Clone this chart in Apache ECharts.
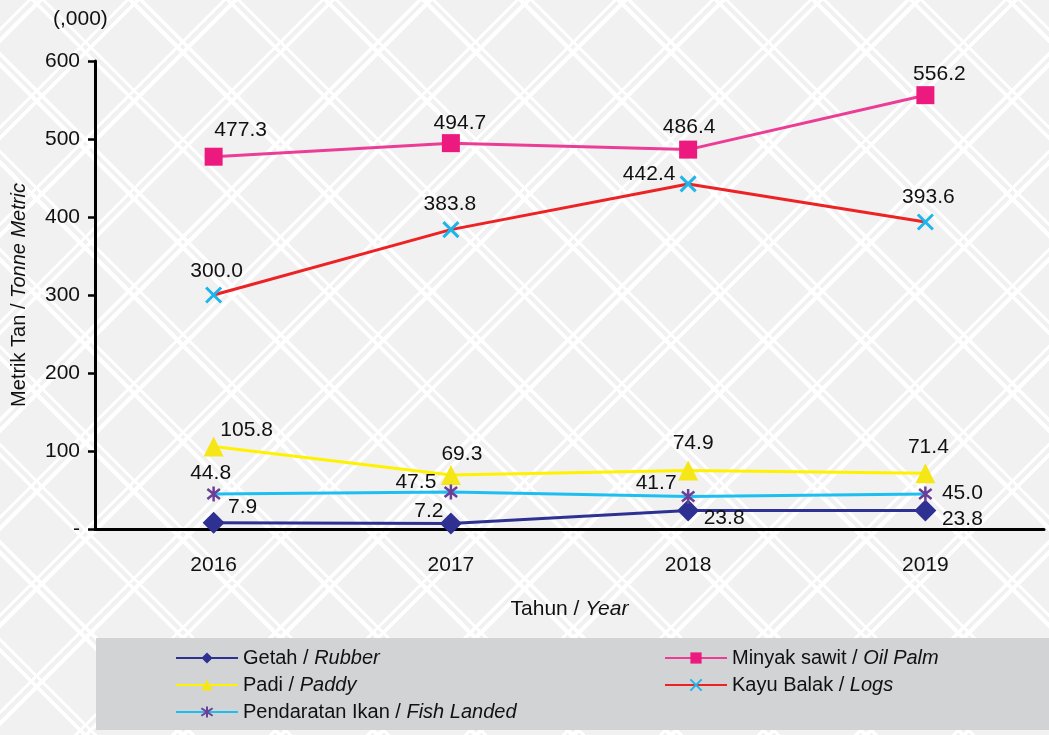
<!DOCTYPE html>
<html>
<head>
<meta charset="utf-8">
<script src="https://cdn.jsdelivr.net/npm/echarts@6/dist/echarts.min.js"></script>
<style>
  html, body { margin: 0; padding: 0; }
  #main {
    width: 1049px; height: 735px;
    background-color: #f1f1f1;
    background-image:
      repeating-linear-gradient(45deg, transparent 0 58px, #ffffff 58px 62px, transparent 62px 66px, #ffffff 66px 69px),
      repeating-linear-gradient(-45deg, transparent 0 58px, #ffffff 58px 62px, transparent 62px 66px, #ffffff 66px 69px);
  }
</style>
</head>
<body>
<div id="main"></div>
<script>
// 年份
var years = ['2016', '2017', '2018', '2019'];

// 各项产量 (,000 tan metrik)
var getah = [7.9, 7.2, 23.8, 23.8];
var padi = [105.8, 69.3, 74.9, 71.4];
var ikan = [44.8, 47.5, 41.7, 45.0];
var sawit = [477.3, 494.7, 486.4, 556.2];
var kayu = [300.0, 383.8, 442.4, 393.6];

var yTicks = ['-', '100', '200', '300', '400', '500', '600'];

var FONT = 'Liberation Sans';

// 标签相对数据点的偏移（样式）
function labelled(values, offs) {
  return values.map(function (v, i) {
    return { value: v, label: { position: 'inside', offset: offs[i] } };
  });
}

var xPath = 'path://M0,0L10,10M10,0L0,10';
var starPath = 'path://M0,1L10,9M10,1L0,9M5,-1L5,11';

var myChart = echarts.init(document.getElementById('main'));

var labelBase = {
  show: true, fontFamily: FONT, fontSize: 21, color: '#111',
  formatter: function (p) { return p.value.toFixed(1); }
};

myChart.setOption({
  title: {
    text: '(,000)', left: 48, top: 4,
    textStyle: { fontFamily: FONT, fontSize: 21, fontWeight: 'normal', color: '#111' }
  },
  grid: { left: 95, right: 5, top: 61, bottom: 206, outerBoundsMode: 'none' },
  graphic: [{
    type: 'rect', left: 96, top: 638, z: -1,
    shape: { width: 953, height: 92 },
    style: { fill: '#d1d3d4' }
  }],
  legend: [{
    orient: 'vertical', left: 170, top: 643, itemGap: 7, itemWidth: 62, itemHeight: 14,
    data: ['Getah / Rubber', 'Padi / Paddy', 'Pendaratan Ikan / Fish Landed'],
    formatter: fmt, textStyle: legendText()
  }, {
    orient: 'vertical', left: 659, top: 643, itemGap: 7, itemWidth: 62, itemHeight: 14,
    data: ['Minyak sawit / Oil Palm', 'Kayu Balak / Logs'],
    formatter: fmt, textStyle: legendText()
  }],
  xAxis: {
    type: 'category', data: years,
    name: '{n|Tahun / }{i|Year}', nameLocation: 'middle', nameGap: 70,
    nameTextStyle: { rich: {
      n: { fontFamily: FONT, fontSize: 21, color: '#111' },
      i: { fontFamily: FONT, fontSize: 21, fontStyle: 'italic', color: '#111' }
    } },
    axisLine: { lineStyle: { color: '#000', width: 3 } },
    axisTick: { length: 7, lineStyle: { color: '#000', width: 2.5 } },
    axisLabel: { margin: 26, fontFamily: FONT, fontSize: 21, color: '#111' }
  },
  yAxis: {
    type: 'value', min: 0, max: 600, interval: 100,
    name: '{n|Metrik Tan / }{i|Tonne Metric}', nameLocation: 'middle', nameGap: 66, nameRotate: 90,
    nameTextStyle: { rich: {
      n: { fontFamily: FONT, fontSize: 20, color: '#111' },
      i: { fontFamily: FONT, fontSize: 20, fontStyle: 'italic', color: '#111' }
    } },
    splitLine: { show: false },
    axisLine: { show: true, lineStyle: { color: '#000', width: 3 } },
    axisTick: { show: true, length: 7, lineStyle: { color: '#000', width: 2.5 } },
    axisLabel: {
      margin: 15, fontFamily: FONT, fontSize: 21, color: '#111',
      formatter: function (v) { return yTicks[v / 100]; }
    }
  },
  series: [{
    name: 'Getah / Rubber', type: 'line',
    data: labelled(getah, [[29, -16], [-22, -12], [36, 8], [37, 9]]),
    symbol: 'diamond', symbolSize: 22,
    lineStyle: { color: '#2e3192', width: 3 },
    itemStyle: { color: '#2e3192' },
    label: labelBase
  }, {
    name: 'Padi / Paddy', type: 'line',
    data: labelled(padi, [[33, -16], [11, -21], [5, -27], [3, -26]]),
    symbol: 'triangle', symbolSize: 20,
    lineStyle: { color: '#fff200', width: 3 },
    itemStyle: { color: '#f5e617' },
    label: labelBase
  }, {
    name: 'Pendaratan Ikan / Fish Landed', type: 'line',
    data: labelled(ikan, [[-3, -21], [-35, -10], [-32, -13], [37, -1]]),
    symbol: starPath, symbolSize: 15, symbolKeepAspect: true,
    lineStyle: { color: '#1ebff0', width: 3 },
    itemStyle: { color: 'transparent', borderColor: '#6b3f98', borderWidth: 2.5 },
    label: labelBase
  }, {
    name: 'Minyak sawit / Oil Palm', type: 'line',
    data: labelled(sawit, [[27, -27], [9, -20], [1, -22], [14, -21]]),
    symbol: 'rect', symbolSize: 18,
    lineStyle: { color: '#ec3d96', width: 3 },
    itemStyle: { color: '#ec1a7e' },
    label: labelBase
  }, {
    name: 'Kayu Balak / Logs', type: 'line',
    data: labelled(kayu, [[3, -24], [-1, -25], [-39, -10], [3, -25]]),
    symbol: xPath, symbolSize: 15, symbolKeepAspect: true,
    lineStyle: { color: '#ed2224', width: 3 },
    itemStyle: { color: 'transparent', borderColor: '#1eb6ea', borderWidth: 3 },
    label: labelBase
  }]
});

function fmt(name) {
  var parts = name.split(' / ');
  return '{n|' + parts[0] + ' / }{i|' + parts[1] + '}';
}
function legendText() {
  return {
    rich: {
      n: { fontFamily: FONT, fontSize: 20, color: '#111' },
      i: { fontFamily: FONT, fontSize: 20, fontStyle: 'italic', color: '#111' }
    }
  };
}
</script>
</body>
</html>
